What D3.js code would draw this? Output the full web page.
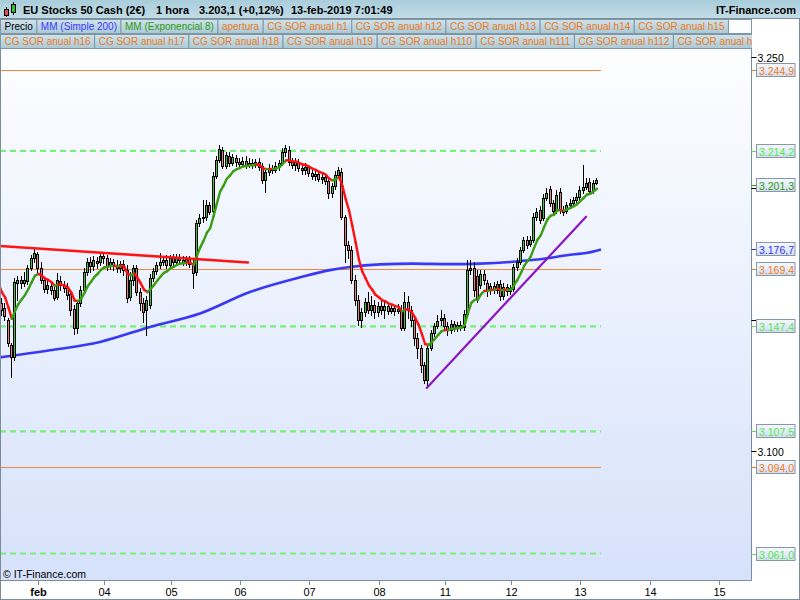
<!DOCTYPE html>
<html><head><meta charset="utf-8">
<script src="https://cdn.jsdelivr.net/npm/d3@7"></script>
<style>
body{margin:0;background:#fff;}
svg{display:block;font-family:Arial,"Liberation Sans",sans-serif;}
</style></head>
<body><svg id="chart" width="800" height="600"></svg>
<script>
// ---------- DATA ----------
const title = "EU Stocks 50 Cash (2€)";
const period = "1 hora";
const lastInfo = "3.203,1 (+0,12%)";
const stamp = "13-feb-2019 7:01:49";
const brand = "IT-Finance.com";

// hourly bars (index 0 = first bar shown)
const openP = [3156.2,3154.3,3149.7,3140.2,3135.6,3163.9,3165.0,3163.9,3164.6,3169.6,
3173.4,3174.9,3169.6,3165.0,3161.6,3162.7,3161.2,3158.5,3164.6,3163.1,
3161.9,3159.7,3153.9,3146.7,3156.2,3161.2,3168.0,3171.9,3170.3,3172.2,
3171.9,3174.2,3173.4,3170.3,3171.9,3170.7,3169.6,3171.1,3168.8,3158.5,
3165.0,3169.6,3160.4,3156.2,3153.6,3155.5,3165.8,3168.4,3170.7,3171.9,
3172.6,3170.7,3173.4,3171.9,3173.8,3172.6,3171.9,3173.0,3171.1,3168.0,
3186.7,3188.6,3189.0,3193.6,3191.3,3204.7,3210.8,3214.6,3208.5,3212.3,
3209.6,3211.5,3210.0,3209.2,3210.4,3208.9,3209.6,3208.9,3210.0,3208.5,
3203.1,3206.2,3207.7,3206.9,3208.5,3209.6,3213.8,3214.6,3210.0,3208.9,
3210.0,3207.7,3206.9,3208.1,3205.8,3204.7,3205.4,3203.5,3204.3,3202.8,
3198.2,3200.8,3205.0,3206.2,3189.0,3178.3,3176.4,3165.0,3157.4,3149.7,
3152.8,3156.6,3153.6,3155.5,3152.8,3155.1,3153.6,3155.1,3153.2,3154.3,
3153.2,3153.6,3146.7,3156.6,3153.6,3149.7,3142.9,3139.1,3132.6,3126.9,
3139.1,3144.8,3147.5,3149.7,3150.5,3147.5,3145.9,3148.2,3146.7,3147.8,
3147.1,3152.0,3168.8,3169.6,3166.5,3163.1,3167.3,3163.9,3161.2,3162.7,
3161.2,3163.5,3158.9,3162.3,3160.8,3161.6,3170.0,3171.9,3176.4,3180.3,
3178.7,3180.3,3189.0,3191.7,3188.6,3196.3,3199.7,3194.4,3191.3,3198.6,
3191.7,3191.3,3193.6,3194.4,3195.5,3196.6,3199.3,3200.5,3202.4,3199.3,
3202.0];
const highP = [3158.1,3156.2,3150.5,3141.0,3165.8,3166.5,3166.5,3168.0,3170.7,3174.5,
3176.8,3175.7,3171.9,3166.1,3165.0,3164.2,3163.1,3167.7,3166.5,3164.6,
3163.9,3161.2,3155.5,3157.4,3162.7,3169.6,3173.4,3173.8,3174.2,3173.8,
3175.7,3175.7,3174.5,3173.4,3173.0,3172.6,3172.2,3172.6,3170.7,3168.0,
3170.7,3170.7,3161.9,3158.1,3158.9,3167.3,3169.6,3171.9,3175.3,3174.2,
3174.5,3174.5,3174.9,3174.9,3174.9,3174.2,3174.2,3174.2,3172.6,3187.9,
3190.2,3195.5,3195.5,3194.7,3206.2,3212.3,3216.5,3215.7,3213.8,3213.8,
3213.0,3212.7,3211.5,3211.9,3212.3,3211.5,3211.1,3211.1,3211.5,3209.6,
3207.7,3209.2,3208.9,3210.0,3210.8,3215.3,3216.5,3216.1,3211.5,3211.5,
3211.1,3209.2,3209.6,3208.9,3207.3,3206.9,3206.6,3205.8,3205.4,3203.9,
3202.0,3206.6,3208.1,3207.7,3189.8,3179.9,3178.0,3166.9,3159.3,3154.3,
3158.1,3160.4,3158.9,3157.4,3156.6,3157.4,3156.6,3156.6,3155.8,3155.5,
3155.8,3155.5,3160.4,3158.9,3155.1,3151.3,3144.8,3140.2,3133.7,3139.8,
3145.9,3148.6,3151.7,3153.6,3152.0,3149.0,3149.7,3149.4,3149.0,3149.4,
3153.6,3172.6,3172.6,3171.9,3168.8,3168.8,3168.8,3165.0,3163.9,3164.2,
3164.6,3165.0,3163.9,3163.5,3163.1,3171.1,3173.4,3177.6,3181.4,3181.8,
3181.8,3190.5,3192.4,3193.2,3197.8,3200.1,3200.8,3195.5,3199.3,3200.1,
3193.2,3194.7,3195.9,3196.6,3198.2,3200.8,3208.9,3203.9,3203.9,3203.1,
3203.9];
const lowP = [3151.7,3149.7,3139.8,3128.0,3134.5,3157.4,3161.9,3162.7,3163.5,3168.8,
3171.9,3168.0,3163.9,3160.4,3160.0,3159.7,3157.4,3157.7,3161.2,3160.4,
3157.7,3151.7,3144.4,3144.8,3155.1,3160.4,3166.9,3168.0,3168.8,3169.6,
3170.7,3171.5,3168.8,3169.2,3168.8,3168.0,3168.0,3166.9,3156.6,3157.4,
3163.1,3159.3,3153.6,3149.0,3144.0,3154.3,3164.6,3167.3,3169.6,3170.7,
3169.6,3169.6,3170.3,3170.7,3171.1,3170.7,3170.7,3170.0,3161.9,3166.9,
3185.6,3187.1,3187.9,3190.2,3190.5,3203.9,3210.0,3207.7,3207.7,3208.5,
3208.9,3208.5,3207.7,3208.1,3207.7,3208.1,3207.7,3208.1,3206.9,3202.0,
3198.6,3205.0,3205.8,3206.2,3206.9,3208.9,3212.3,3208.9,3207.7,3206.9,
3206.6,3205.4,3205.4,3204.7,3203.5,3203.1,3202.8,3202.0,3201.6,3196.3,
3196.6,3199.7,3203.9,3188.3,3171.9,3173.4,3163.9,3155.5,3147.8,3147.1,
3151.3,3152.4,3151.7,3150.5,3151.3,3152.0,3150.5,3152.0,3152.4,3151.7,
3152.4,3145.9,3145.9,3150.5,3147.5,3140.2,3135.3,3129.9,3125.7,3124.6,
3138.3,3143.6,3146.7,3147.8,3146.3,3144.0,3144.8,3145.6,3145.6,3145.9,
3145.9,3150.9,3167.3,3158.9,3156.6,3161.9,3163.5,3158.9,3159.7,3160.0,
3160.0,3157.4,3157.7,3159.3,3159.7,3160.8,3168.8,3171.1,3175.7,3177.2,
3178.0,3179.5,3187.9,3186.7,3187.9,3195.5,3193.2,3190.2,3190.5,3190.5,
3189.8,3190.5,3192.4,3193.6,3194.7,3195.9,3198.2,3199.7,3197.8,3198.2,
3201.6];
const closeP = [3153.6,3151.3,3141.0,3135.6,3164.2,3165.0,3163.9,3165.0,3169.6,3173.4,
3175.3,3169.6,3165.0,3161.6,3163.1,3161.2,3158.1,3165.0,3163.1,3161.9,
3159.3,3153.6,3146.7,3156.2,3161.2,3168.0,3171.9,3170.3,3172.6,3171.5,
3174.2,3173.4,3170.3,3171.9,3170.7,3169.6,3171.1,3168.8,3158.1,3165.0,
3169.6,3160.4,3156.2,3152.8,3157.4,3165.8,3168.4,3170.7,3171.9,3172.6,
3170.7,3173.4,3171.9,3173.8,3172.6,3171.9,3173.0,3171.1,3167.7,3186.7,
3188.6,3189.0,3193.6,3190.9,3204.7,3210.8,3215.0,3208.5,3212.7,3209.6,
3211.9,3210.0,3209.2,3210.4,3208.9,3209.6,3208.9,3210.0,3208.1,3203.1,
3206.2,3207.7,3206.9,3208.5,3209.6,3213.8,3215.3,3210.0,3208.9,3210.0,
3207.7,3206.9,3208.1,3205.8,3204.7,3205.4,3203.5,3204.3,3202.8,3198.2,
3200.8,3205.0,3206.9,3189.0,3178.3,3176.4,3165.0,3157.4,3149.7,3152.8,
3156.6,3153.6,3155.5,3152.8,3155.1,3153.6,3155.1,3153.2,3154.3,3153.2,
3153.9,3146.7,3156.6,3153.6,3149.7,3142.9,3139.1,3132.6,3126.9,3139.1,
3144.8,3147.5,3149.4,3150.5,3147.5,3145.9,3148.2,3146.7,3147.8,3147.1,
3152.0,3168.8,3169.6,3161.2,3158.1,3167.3,3165.0,3160.8,3162.7,3161.2,
3163.5,3158.9,3162.3,3160.8,3161.9,3170.0,3171.9,3176.4,3180.3,3178.3,
3180.3,3189.0,3190.9,3187.9,3196.3,3198.2,3194.4,3191.3,3197.4,3191.7,
3190.9,3193.6,3194.4,3195.5,3196.6,3199.3,3200.5,3202.0,3198.9,3202.0,
3203.1];

// day separators: index of first bar of each day, and its label
const dayIdx = [11, 31, 51, 72, 93, 114, 134, 154, 175, 196, 217];
const dayLabels = ["feb","04","05","06","07","08","11","12","13","14","15"];

// MM (Simple 200)
const smaIdx = [-0.6,14.5,29.7,44.8,59.9,75.0,90.2,99.2,105.3,114.4,124.3,135.5,144.6,154.6,164.9,170.9,177.0,181.2];
const smaVal = [3135.6,3138.3,3141.5,3147.2,3152.3,3160.5,3166.1,3168.8,3170.0,3171.0,3171.3,3171.1,3171.3,3172.0,3173.3,3174.5,3175.4,3176.7];

// EMA 8: value carried in from before the first bar
const emaSeed = 3162.3;
const emaPeriod = 8;

// trend lines [index, price]
const redTrend = [[-0.6, 3178.0], [74.4, 3171.7]];
const purpleTrend = [[128.5, 3124.0], [176.7, 3189.1]];

// horizontal levels
const sorLevels = [3244.9, 3169.4, 3094.0];          // solid orange
const greenLevels = [3214.2, 3147.4, 3107.5, 3061.0]; // dashed light green
const levelEndIdx = 181.2;

// right axis
const axisTicks = [3250, 3200, 3150, 3100];
const tagValues = [3244.9, 3214.2, 3201.3, 3176.7, 3169.4, 3147.4, 3107.5, 3094.0, 3061.0];
const tagKinds  = ["sor","grn","ema","sma","sor","grn","grn","sor","grn"];

// legend
const legendRow1 = ["Precio","MM (Simple 200)","MM (Exponencial 8)","apertura","CG SOR anual h1","CG SOR anual h12","CG SOR anual h13","CG SOR anual h14","CG SOR anual h15"];
const legendRow1Kind = ["price","sma","ema","sor","sor","sor","sor","sor","sor"];
const legendRow2 = ["CG SOR anual h16","CG SOR anual h17","CG SOR anual h18","CG SOR anual h19","CG SOR anual h110","CG SOR anual h111","CG SOR anual h112","CG SOR anual h113"];

// ---------- STYLE ----------
const C = {
  up:"#3ec43e", down:"#e57f7f", sma:"#3838f5", emaUp:"#3a9e12", emaDown:"#ff1010",
  sor:"#ef8a3c", grn:"#78ef78", purple:"#8a16c8", red:"#ff1414", frame:"#7b8d9b"
};
const kindColor = {price:"#000", sma:"#3a3aff", ema:"#2f9a10", sor:"#f07a1a", grn:"#4fe84f"};
const tagColor = {sor:"#f07a1a", grn:"#4fe84f", ema:"#2f9a10", sma:"#3333ff"};

const plotL = 0, plotR = 751.5, plotT = 19, plotB = 580;
const svg = d3.select("#chart");
const loc = d3.formatLocale({decimal:",", thousands:".", grouping:[3], currency:["","€"]});
const fmt1 = loc.format(",.1f"), fmt0 = loc.format(",.0f");

const x = d3.scaleLinear().domain([11, 217]).range([38.3, 719.3]);
const y = d3.scaleLinear().domain([3100, 3250]).range([451, 56.7]);

const defs = svg.append("defs");
const g1 = defs.append("linearGradient").attr("id","bg").attr("x1",0).attr("y1",0).attr("x2",0).attr("y2",1);
g1.append("stop").attr("offset","0%").attr("stop-color","#ffffff");
g1.append("stop").attr("offset","100%").attr("stop-color","#d6e2fb");
const g2 = defs.append("linearGradient").attr("id","hdr").attr("x1",0).attr("y1",0).attr("x2",0).attr("y2",1);
g2.append("stop").attr("offset","0%").attr("stop-color","#a9cddb");
g2.append("stop").attr("offset","100%").attr("stop-color","#c4dde7");
const g3 = defs.append("linearGradient").attr("id","leg").attr("x1",0).attr("y1",0).attr("x2",0).attr("y2",1);
g3.append("stop").attr("offset","0%").attr("stop-color","#cfe3ec");
g3.append("stop").attr("offset","100%").attr("stop-color","#a9c9d7");
const g4 = defs.append("linearGradient").attr("id","tag").attr("x1",0).attr("y1",0).attr("x2",0).attr("y2",1);
g4.append("stop").attr("offset","0%").attr("stop-color","#f6f9fe");
g4.append("stop").attr("offset","100%").attr("stop-color","#d3def0");
defs.append("clipPath").attr("id","clip").append("rect")
  .attr("x",plotL).attr("y",plotT).attr("width",plotR-plotL).attr("height",plotB-plotT);

// backgrounds
svg.append("rect").attr("width",800).attr("height",600).attr("fill","#fff");
svg.append("rect").attr("x",plotL).attr("y",plotT).attr("width",plotR-plotL).attr("height",plotB-plotT).attr("fill","url(#bg)");

const plot = svg.append("g").attr("clip-path","url(#clip)");

// levels
const xEnd = x(levelEndIdx);
plot.selectAll("line.sor").data(sorLevels).join("line")
  .attr("x1",0).attr("x2",xEnd).attr("y1",d=>Math.round(y(d))+0.5).attr("y2",d=>Math.round(y(d))+0.5)
  .attr("stroke",C.sor).attr("stroke-width",1);
plot.selectAll("line.grn").data(greenLevels).join("line")
  .attr("x1",0).attr("x2",xEnd).attr("y1",d=>y(d)).attr("y2",d=>y(d))
  .attr("stroke",C.grn).attr("stroke-width",2.2).attr("stroke-dasharray","6,4");

// SMA 200
plot.append("path").datum(smaIdx.map((v,i)=>[v, smaVal[i]]))
  .attr("fill","none").attr("stroke",C.sma).attr("stroke-width",2.6).attr("stroke-linejoin","round")
  .attr("d", d3.line().curve(d3.curveMonotoneX).x(d=>x(d[0])).y(d=>y(d[1])));

// candles
const bars = d3.range(closeP.length).map(i=>({i, o:openP[i], h:highP[i], l:lowP[i], c:closeP[i]}));
const cg = plot.append("g").attr("shape-rendering","crispEdges");
bars.forEach(b=>{
  const xr = Math.round(x(b.i));
  cg.append("line").attr("x1",xr-0.5).attr("x2",xr-0.5)
    .attr("y1",Math.round(y(b.h))).attr("y2",Math.round(y(b.l))+1)
    .attr("stroke","#000").attr("stroke-width",1);
  const top = Math.round(y(Math.max(b.o,b.c))), bot = Math.round(y(Math.min(b.o,b.c)));
  cg.append("rect").attr("x",xr-1.5).attr("y",top+0.5).attr("width",2).attr("height",Math.max(1,bot-top))
    .attr("fill", b.c>=b.o ? C.up : C.down).attr("stroke","#000").attr("stroke-width",1);
});

// EMA 8 (coloured by direction)
const k = 2/(emaPeriod+1);
let prev = emaSeed;
const ema = [[-0.6, emaSeed]];
closeP.forEach((c,i)=>{ prev = prev + k*(c-prev); ema.push([i, prev]); });
for (let j=1;j<ema.length;j++){
  const a = ema[j-1], b = ema[j];
  plot.append("line").attr("x1",x(a[0])).attr("y1",y(a[1])).attr("x2",x(b[0])).attr("y2",y(b[1]))
    .attr("stroke", b[1]>=a[1] ? C.emaUp : C.emaDown).attr("stroke-width",2.4).attr("stroke-linecap","round");
}

// trend lines
[[redTrend,C.red,2.6],[purpleTrend,C.purple,2.2]].forEach(([t,col,w])=>{
  plot.append("line").attr("x1",x(t[0][0])).attr("y1",y(t[0][1])).attr("x2",x(t[1][0])).attr("y2",y(t[1][1]))
    .attr("stroke",col).attr("stroke-width",w).attr("stroke-linecap","round");
});

// copyright
svg.append("text").attr("x",3).attr("y",578).attr("font-size",10.5).attr("fill","#000").text("© IT-Finance.com");

// frames
svg.append("line").attr("x1",0).attr("x2",plotR).attr("y1",580.5).attr("y2",580.5).attr("stroke",C.frame);
svg.append("line").attr("x1",plotR).attr("x2",plotR).attr("y1",plotT).attr("y2",580.5).attr("stroke",C.frame);
svg.append("rect").attr("x",0.5).attr("y",0.5).attr("width",799).attr("height",599).attr("fill","none").attr("stroke",C.frame);

// bottom axis
const xa = svg.append("g");
dayIdx.forEach((d,j)=>{
  const xx = Math.round(x(d))+0.5;
  xa.append("line").attr("x1",xx).attr("x2",xx).attr("y1",580.5).attr("y2",585).attr("stroke",C.frame);
  xa.append("text").attr("x",xx).attr("y",596).attr("text-anchor","middle").attr("font-size",11)
    .attr("font-weight", j===0?"bold":"normal").attr("fill","#000").text(dayLabels[j]);
});

// right axis ticks (tick text is hidden where a value tag covers it, as in the original)
const ya = svg.append("g");
axisTicks.forEach(v=>{
  const yy = Math.round(y(v))+0.5;
  ya.append("line").attr("x1",plotR).attr("x2",plotR+5).attr("y1",yy).attr("y2",yy).attr("stroke","#000");
  const covered = tagValues.some(t=>Math.abs(y(t)-y(v))<12);
  if (!covered)
    ya.append("text").attr("x",plotR+6).attr("y",yy+4).attr("font-size",10.5).attr("fill","#000").text(fmt0(v));
});
// value tags
tagValues.forEach((v,j)=>{
  const yy = Math.round(y(v))+0.5, col = tagColor[tagKinds[j]];
  ya.append("line").attr("x1",plotR).attr("x2",plotR+5).attr("y1",yy).attr("y2",yy).attr("stroke",col);
  ya.append("rect").attr("x",756.5).attr("y",yy-7).attr("width",38.5).attr("height",13)
    .attr("fill","url(#tag)").attr("stroke","#8797a6");
  ya.append("text").attr("x",759).attr("y",yy+4).attr("font-size",10.5).attr("fill",col).text(fmt1(v));
});

// header
svg.append("rect").attr("x",0).attr("y",0).attr("width",800).attr("height",19).attr("fill","url(#hdr)");
svg.append("line").attr("x1",0).attr("x2",800).attr("y1",18.5).attr("y2",18.5).attr("stroke",C.frame);
// small candlestick icon
svg.append("line").attr("x1",6.5).attr("x2",6.5).attr("y1",7).attr("y2",17).attr("stroke","#000");
svg.append("rect").attr("x",4.5).attr("y",9.5).attr("width",4).attr("height",6).attr("fill","#e05050").attr("stroke","#000");
svg.append("line").attr("x1",13.5).attr("x2",13.5).attr("y1",2).attr("y2",15).attr("stroke","#000");
svg.append("rect").attr("x",11.5).attr("y",4.5).attr("width",4).attr("height",8).attr("fill","#30c030").attr("stroke","#000");
const hdr = svg.append("g").attr("font-size",11).attr("font-weight","bold").attr("fill","#000");
[[title,23],[period,156],[lastInfo,199],[stamp,291]].forEach(([t,xx])=>hdr.append("text").attr("x",xx).attr("y",14).text(t));
hdr.append("text").attr("x",796).attr("y",14).attr("text-anchor","end").text(brand);

// legend rows
function legendRow(parent, items, kinds, y0){
  let xx = 0.5;
  items.forEach((t,j)=>{
    const tx = parent.append("text").attr("y",y0+11).attr("font-size",10).attr("fill",kindColor[kinds[j]]).text(t);
    const w = tx.node().getComputedTextLength()+8;
    parent.insert("rect","text").attr("x",xx).attr("y",y0+0.5).attr("width",w).attr("height",14)
      .attr("fill","url(#leg)").attr("stroke","#7f97a5");
    tx.attr("x",xx+4);
    xx += w;
  });
  return xx;
}
svg.append("clipPath").attr("id","legclip").append("rect").attr("x",0).attr("y",19).attr("width",plotR+0.5).attr("height",31);
const legG = svg.append("g").attr("clip-path","url(#legclip)");
const row1 = legG.append("g");
const end1 = legendRow(row1, legendRow1, legendRow1Kind, 19);
row1.append("rect").attr("x",end1).attr("y",19.5).attr("width",Math.max(0,plotR-end1)).attr("height",14).attr("fill","#fcfdff").attr("stroke","#7f97a5");
const row2 = legG.append("g");
legendRow(row2, legendRow2, legendRow2.map(()=>"sor"), 34);
</script>
</body></html>
